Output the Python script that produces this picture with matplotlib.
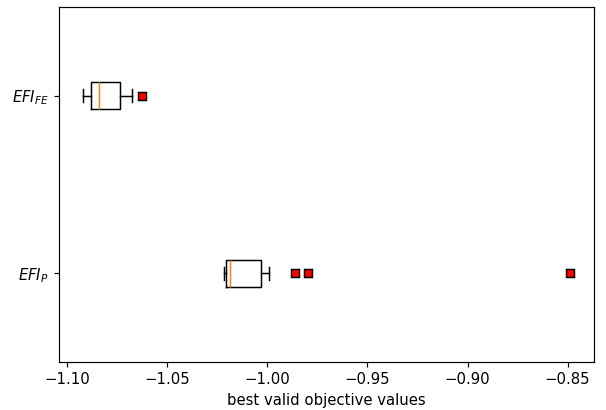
import matplotlib
matplotlib.use("Agg")
import matplotlib.pyplot as plt

labels = ["$EFI_P$", "$EFI_{FE}$"]
q1 = [-1.0207, -1.0880]
med = [-1.0185, -1.0840]
q3 = [-1.0029, -1.0735]
whislo = [-1.0215, -1.0918]
whishi = [-0.9992, -1.0675]
fliers = [[-0.9860, -0.9797, -0.8490], [-1.0625]]

stats = []
for i in range(len(labels)):
    stats.append(dict(med=med[i], q1=q1[i], q3=q3[i], whislo=whislo[i],
                      whishi=whishi[i], fliers=fliers[i], label=labels[i]))

DPI = 107
fig = plt.figure(figsize=(606/DPI, 410/DPI), dpi=DPI)
ax = fig.add_axes([59/606, (410-362)/410, (594-59)/606, (362-7)/410])
ax.bxp(stats, vert=False, widths=0.15,
       flierprops=dict(marker='s', markerfacecolor='red', markeredgecolor='black',
                       markersize=6, linestyle='none'))
ax.set_xlabel("best valid objective values")
fig.savefig("out.png", dpi=DPI)
